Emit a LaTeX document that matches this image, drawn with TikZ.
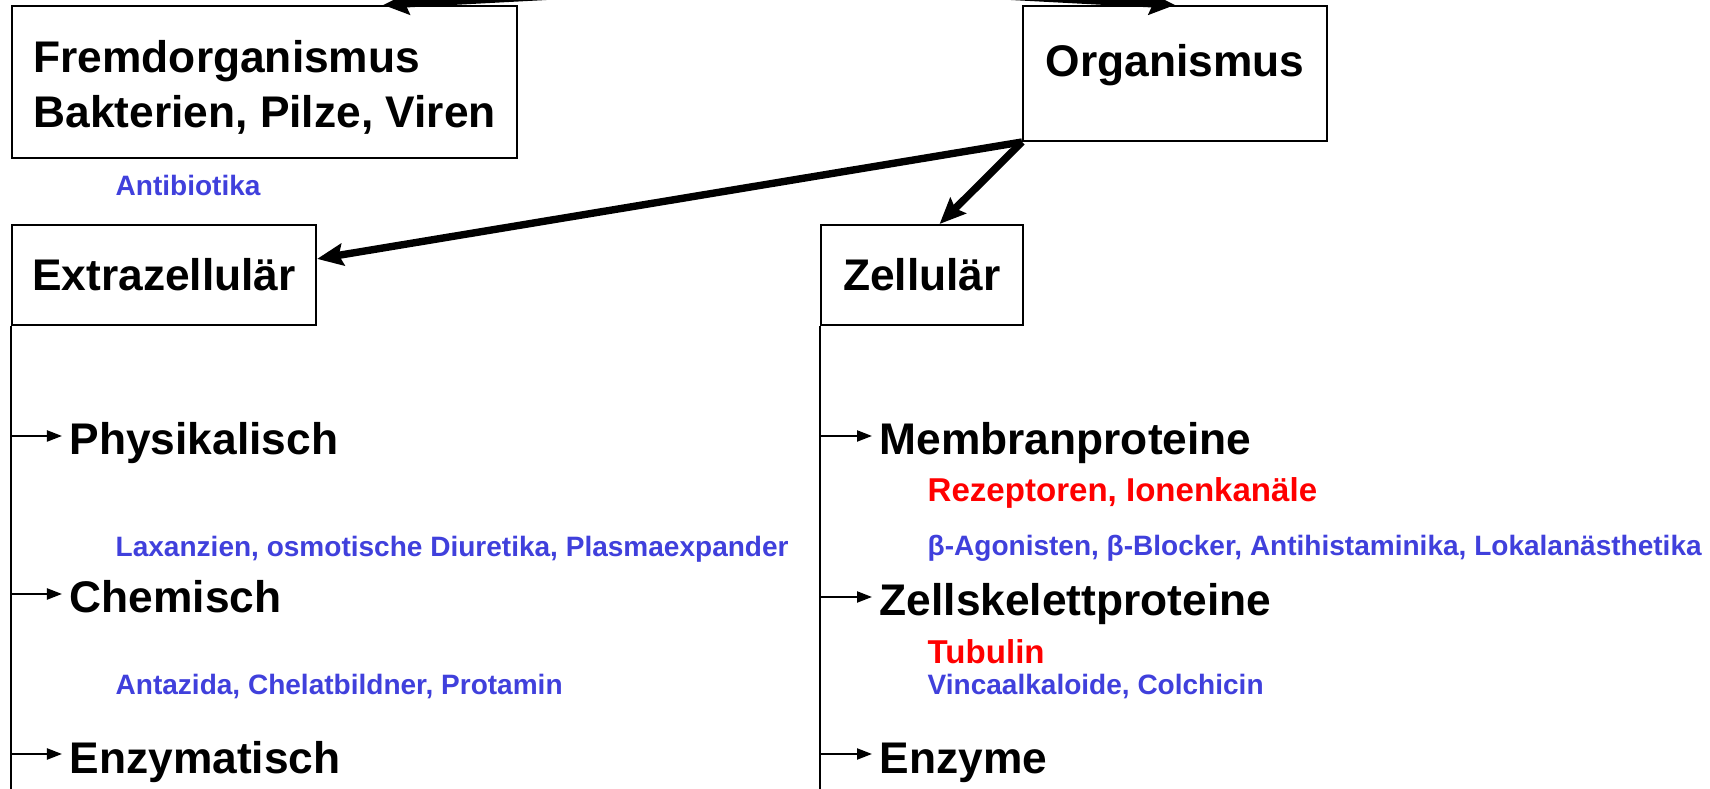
\documentclass[tikz,border=0pt]{standalone}
\usepackage{fontspec}
\setmainfont{Liberation Sans}
\usetikzlibrary{arrows.meta}

\definecolor{drugblue}{RGB}{64,64,220}
\definecolor{targetred}{RGB}{255,0,0}
\newcommand{\headfont}{\fontsize{12.6}{15.6}\selectfont\bfseries}
\newcommand{\drugfont}{\fontsize{7.97}{9.5}\selectfont\bfseries}
\newcommand{\targetfont}{\fontsize{9.4}{11}\selectfont\bfseries}

\tikzset{
  box/.style={draw, line width=0.55pt, inner sep=0pt, font=\headfont},
  head/.style={anchor=base west, inner xsep=0.07cm, inner ysep=0pt, text height=0.38cm, text depth=0pt, font=\headfont},
  drug/.style={anchor=base west, inner sep=0pt, text=drugblue, font=\drugfont},
  target/.style={anchor=base west, inner sep=0pt, text=targetred, font=\targetfont},
  bigarrow/.style={line width=2.1pt, -{Stealth[length=0.26cm,width=0.22cm,inset=0.04cm]}},
  smallarrow/.style={line width=0.6pt, -{Triangle[length=0.15cm,width=0.11cm]}},
  trunk/.style={line width=0.6pt}
}

\begin{document}
\begin{tikzpicture}[x=0.01cm, y=-0.01cm]
    \useasboundingbox (0,0) rectangle (1710,789);
    \clip (0,0) rectangle (1710,789);

    \coordinate (src) at (778,-16);
    \coordinate (bottom) at (0,800);

    \node[box, anchor=north west, minimum width=5.05cm, minimum height=1.52cm, align=left] (fremd) at (11,5) {\rule{0pt}{0.42cm}Fremdorganismus\\Bakterien, Pilze, Viren};
    \node[box, anchor=north west, minimum width=3.04cm, text height=0.71cm, text depth=0.64cm] (org) at (1022,5) {Organismus};
    \node[box, anchor=north west, minimum width=3.04cm, minimum height=1.0cm] (extra) at (11,224) {Extrazellulär};
    \node[box, anchor=north west, minimum width=2.02cm, minimum height=1.0cm] (zell) at (820,224) {Zellulär};

    \draw[bigarrow] (src) -- (fremd.33);
    \draw[bigarrow] (src) -- (org.north);
    \draw[bigarrow] (org.south west) -- (extra.6);
    \draw[bigarrow] (org.south west) -- (zell.71);

    \node[drug] (antibio) at (115,196) {Antibiotika};

    % extrazellulaer
    \draw[trunk] (extra.south west) -- (extra.south west |- bottom);
    \node[head] (phys) at (62,455) {Physikalisch};
    \node[drug] (laxan) at (115,557) {Laxanzien, osmotische Diuretika, Plasmaexpander};
    \node[head] (chem) at (62,613) {Chemisch};
    \node[drug] (antaz) at (115,695) {Antazida, Chelatbildner, Protamin};
    \node[head] (enzm) at (62,773) {Enzymatisch};
    \draw[smallarrow] (extra.south west |- phys.west) -- (phys.west);
    \draw[smallarrow] (extra.south west |- chem.west) -- (chem.west);
    \draw[smallarrow] (extra.south west |- enzm.west) -- (enzm.west);

    % zellulaer
    \draw[trunk] (zell.south west) -- (zell.south west |- bottom);
    \node[head] (membr) at (872,455) {Membranproteine};
    \node[target] (rezep) at (927,502) {Rezeptoren, Ionenkanäle};
    \node[drug] (agon) at (927,556) {β-Agonisten, β-Blocker, Antihistaminika, Lokalanästhetika};
    \node[head] (skel) at (872,616) {Zellskelettproteine};
    \node[target] (tubul) at (927,664) {Tubulin};
    \node[drug] (vinca) at (927,695) {Vincaalkaloide, Colchicin};
    \node[head] (enzy) at (872,773) {Enzyme};
    \draw[smallarrow] (zell.south west |- membr.west) -- (membr.west);
    \draw[smallarrow] (zell.south west |- skel.west) -- (skel.west);
    \draw[smallarrow] (zell.south west |- enzy.west) -- (enzy.west);
\end{tikzpicture}
\end{document}
